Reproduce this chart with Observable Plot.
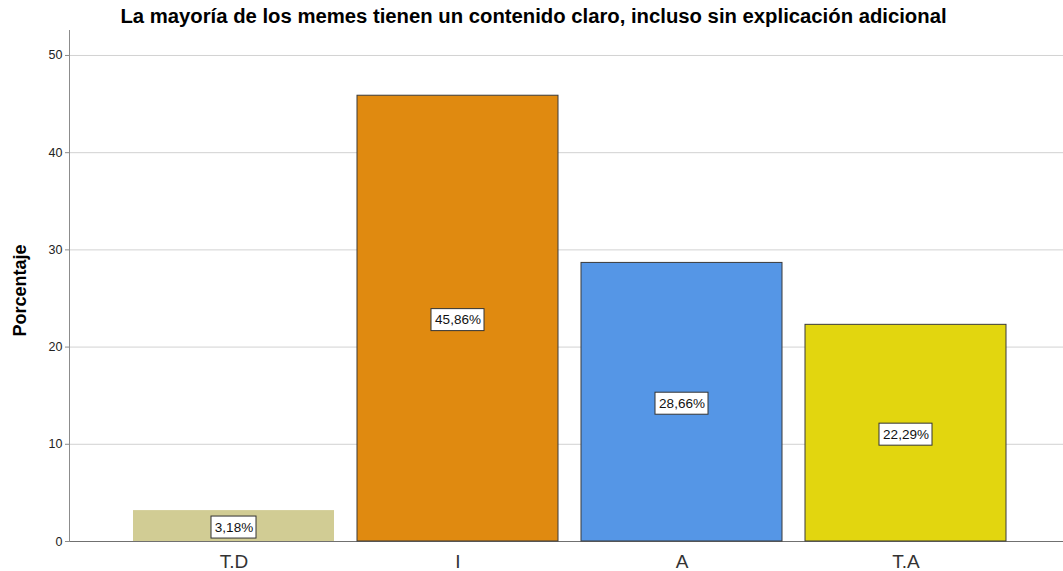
<!DOCTYPE html>
<html>
<head>
<meta charset="utf-8">
<script src="https://cdn.jsdelivr.net/npm/d3@7"></script>
<script src="https://cdn.jsdelivr.net/npm/@observablehq/plot@0.6"></script>
<style>
  html, body { margin: 0; padding: 0; background: #ffffff; }
  body { width: 1063px; height: 571px; overflow: hidden; font-family: "Liberation Sans", Arial, sans-serif; }
  #title { width: 1063px; height: 30px; line-height: 33px; text-align: center; font-weight: bold; font-size: 20.3px; color: #000; white-space: nowrap; padding-left: 4px; box-sizing: border-box; }
  #chart svg { display: block; }
</style>
</head>
<body>
<div id="title">La mayoría de los memes tienen un contenido claro, incluso sin explicación adicional</div>
<div id="chart"></div>
<script>
// ---- data ----
const categories = ["T.D", "I", "A", "T.A"];
const percentages = [3.18, 45.86, 28.66, 22.29];
const barColors = ["#d1cc94", "#e08a10", "#5596e6", "#e2d60f"];
const outlined = [false, true, true, true];
const yTicks = [0, 10, 20, 30, 40, 50];
const yAxisLabel = "Porcentaje";

const labels = percentages.map(v => v.toFixed(2).replace(".", ",") + "%");
const data = categories.map((c, i) => ({ cat: c, value: percentages[i], label: labels[i], outlined: outlined[i] }));

const unitPx = 511 / 52.57;      // pixels per percentage unit (for label box sizing)
const bandPx = 202;              // approximate bar width in pixels

const labelBoxes = data.map(d => {
  const w = d.label.length * 8 + 6;
  const inset = (bandPx - w) / 2;
  return Plot.barY([d], {
    x: "cat",
    y1: d => d.value / 2 - 12.5 / unitPx,
    y2: d => d.value / 2 + 9.5 / unitPx,
    fill: "#ffffff",
    stroke: "#333333",
    strokeWidth: 1,
    insetLeft: inset,
    insetRight: inset
  });
});

const chart = Plot.plot({
  width: 1063,
  height: 541,
  marginLeft: 69,
  marginRight: 0,
  marginTop: 0,
  marginBottom: 30,
  style: { fontFamily: "'Liberation Sans', Arial, sans-serif", background: "#ffffff" },
  x: { domain: categories, paddingInner: 0.101, paddingOuter: 0.261, align: 0.532, label: null },
  y: { domain: [0, 52.57], label: null },
  color: { domain: categories, range: barColors },
  marks: [
    Plot.gridY(yTicks.filter(t => t > 0), { stroke: "#d2d2d2", strokeOpacity: 1 }),
    Plot.ruleY([0], { stroke: "#707070" }),
    Plot.frame({ anchor: "left", stroke: "#8c8c8c" }),
    Plot.barY(data, { x: "cat", y: "value", fill: "cat", filter: d => !d.outlined }),
    Plot.barY(data, { x: "cat", y: "value", fill: "cat", stroke: "#3a3a3a", strokeWidth: 1, filter: d => d.outlined }),
    labelBoxes,
    Plot.text(data, { x: "cat", y: d => d.value / 2, text: "label", fontSize: 13.5, fill: "#111", dy: 1.5 }),
    Plot.axisY(yTicks, { tickSize: 4, tickPadding: 3, fontSize: 12.5, color: "#222", stroke: "#8c8c8c", label: null }),
    Plot.axisX({ tickSize: 0, tickPadding: 13, fontSize: 19, color: "#333", label: null }),
    Plot.text([yAxisLabel], { frameAnchor: "left", textAnchor: "middle", lineAnchor: "middle", text: d => d, rotate: -90, dx: -49.5, dy: 4.5, fontSize: 18, fontWeight: "bold", fill: "#000" })
  ]
});
document.getElementById("chart").appendChild(chart);
</script>
</body>
</html>
